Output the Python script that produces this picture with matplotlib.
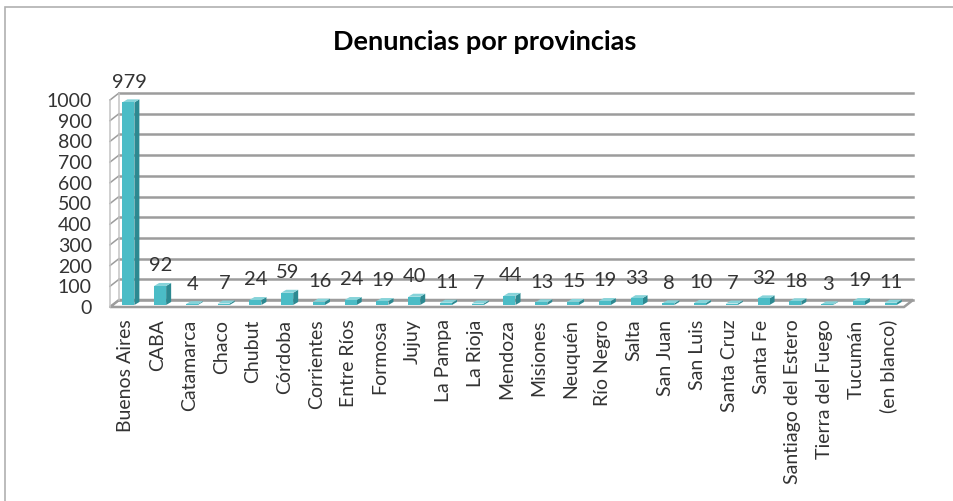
import matplotlib
matplotlib.use("Agg")
import matplotlib.pyplot as plt
from matplotlib.patches import Polygon, Rectangle

plt.rcParams['font.family'] = ['Lato', 'DejaVu Sans']

provincias = ["Buenos Aires", "CABA", "Catamarca", "Chaco", "Chubut", "Córdoba",
              "Corrientes", "Entre Ríos", "Formosa", "Jujuy", "La Pampa", "La Rioja",
              "Mendoza", "Misiones", "Neuquén", "Río Negro", "Salta", "San Juan",
              "San Luis", "Santa Cruz", "Santa Fe", "Santiago del Estero",
              "Tierra del Fuego", "Tucumán", "(en blanco)"]
denuncias = [979, 92, 4, 7, 24, 59, 16, 24, 19, 40, 11, 7, 44, 13, 15, 19, 33,
             8, 10, 7, 32, 18, 3, 19, 11]
y_ticks = [0, 100, 200, 300, 400, 500, 600, 700, 800, 900, 1000]

W, H = 954, 501
fig = plt.figure(figsize=(W / 100, H / 100), dpi=100)

# outer chart border (only left and top edges are inside the image)
fig.add_artist(Rectangle((5 / W, -0.1), 1.2, (H - 7) / H + 0.1, transform=fig.transFigure,
                         fill=False, edgecolor='#b0b0b0', linewidth=1.2))

n = len(provincias)
ax = fig.add_axes([110 / W, (H - 307) / H, 794 / W, 207 / H])
ax.set_xlim(-0.5, n - 0.5)
ax.set_ylim(0, 1000)
for s in ax.spines.values():
    s.set_visible(False)

# pseudo-3d depth offsets in data units
px_cat = 794 / n
px_val = 207 / 1000
wall_dx, wall_dy = 9 / px_cat, 7 / px_val
bar_dx, bar_dy = 5 / px_cat, 3 / px_val
bar_x0, bar_y0 = -3.5 / px_cat, 2 / px_val
bar_w = 12 / px_cat
x0, x1 = -0.5, n - 0.5

grid_c = '#9c9c9c'
# floor
ax.add_patch(Polygon([(x0, 0), (x1, 0), (x1 + wall_dx, wall_dy), (x0 + wall_dx, wall_dy)],
                     closed=True, facecolor='white', edgecolor=grid_c, linewidth=1.8,
                     clip_on=False, zorder=1))
# back wall gridlines and left wall
for v in y_ticks:
    ax.plot([x0 + wall_dx, x1 + wall_dx], [v + wall_dy, v + wall_dy], color=grid_c,
            linewidth=1.8, clip_on=False, zorder=1)
    ax.plot([x0, x0 + wall_dx], [v, v + wall_dy], color=grid_c, linewidth=1.1,
            clip_on=False, zorder=1)
ax.plot([x0, x0], [0, 1000], color='#c4c4c4', linewidth=1.1, clip_on=False, zorder=1)
ax.plot([x0 + wall_dx, x0 + wall_dx], [wall_dy, 1000 + wall_dy], color='#c4c4c4',
        linewidth=1.1, clip_on=False, zorder=1)

front_c, side_c, top_c = '#4bbcc6', '#2c8991', '#86d3d9'
for i, v in enumerate(denuncias):
    left = i + bar_x0
    right = left + bar_w
    bottom = bar_y0
    top = bar_y0 + v
    ax.add_patch(Polygon([(right, bottom), (right + bar_dx, bottom + bar_dy),
                          (right + bar_dx, top + bar_dy), (right, top)],
                         closed=True, facecolor=side_c, edgecolor='none',
                         clip_on=False, zorder=3))
    ax.add_patch(Polygon([(left, top), (right, top), (right + bar_dx, top + bar_dy),
                          (left + bar_dx, top + bar_dy)],
                         closed=True, facecolor=top_c, edgecolor='none',
                         clip_on=False, zorder=3))
    ax.bar(left, v, width=bar_w, bottom=bottom, align='edge', color=front_c,
           edgecolor='none', clip_on=False, zorder=3)
    ax.annotate(str(v), (i + 0.1, top), xytext=(0, 14.5), textcoords='offset points',
                ha='center', va='center', fontsize=14.5, color='#333333',
                annotation_clip=False, zorder=4)

ax.set_xticks(range(n))
ax.set_xticklabels(provincias, rotation=90, fontsize=14, color='#333333')
ax.set_yticks(y_ticks)
ax.set_yticklabels([str(t) for t in y_ticks], fontsize=14, color='#333333')
ax.tick_params(axis='x', length=0, pad=9)
ax.tick_params(axis='y', length=0, pad=13)

fig.text(485 / W, 1 - 42 / H, "Denuncias por provincias", ha='center', va='center',
         fontsize=19.5, fontweight='bold', color='black')

fig.savefig("out.png", dpi=100, facecolor='white')
